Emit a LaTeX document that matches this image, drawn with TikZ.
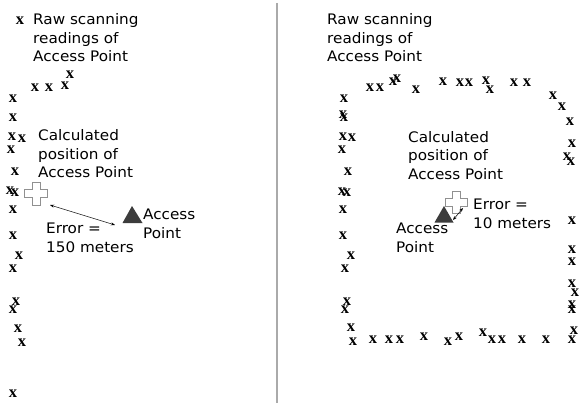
\documentclass[tikz,border=0pt]{standalone}
\usepackage{fontspec}
\newfontfamily\lblfont{DejaVu Sans}[FakeStretch=1.05]
\newfontfamily\xfont{Liberation Serif}
\usetikzlibrary{arrows.meta}
\definecolor{trifill}{HTML}{3C3C3C}
\definecolor{crossline}{HTML}{909090}
\definecolor{divider}{HTML}{AAAAAA}
\begin{document}
\begin{tikzpicture}[x=1pt,y=-1pt,
  xmark/.style={inner sep=0pt, font=\xfont\bfseries\fontsize{16.5}{16.5}\selectfont},
  lbl/.style={inner sep=0pt, anchor=base west, align=left, font=\lblfont\fontsize{14.5}{18.5}\selectfont},
  crossst/.style={draw=crossline, fill=white, line width=0.9pt},
  trist/.style={fill=trifill},
  errarrow/.style={{Stealth[length=4pt,width=3pt]}-{Stealth[length=4pt,width=3pt]}, line width=0.5pt},
  divst/.style={draw=divider, line width=1.6pt}]
\useasboundingbox (0,0) rectangle (580,406);
% divider
\coordinate (dtop) at (277,3);
\coordinate (dbot) at (277,403);
\draw[divst] (dtop) -- (dbot);

% ---------- left panel ----------
\foreach \p [count=\i] in {(20,21),(35,88),(49,88),(65,86),(70,75),(13,99),(13,118),(12,137),(22,139),(11,150),(15,172),(10,191),(15,193),(13,210),(13,236),(19,256),(13,269),(16,302),(13,310),(18,329),(22,343),(13,394)}
  \node[xmark] (L\i) at \p {x};
\node[lbl] (rawL) at (33,62) {Raw scanning\\readings of\\Access Point};
\node[lbl] (calcL) at (38,178) {Calculated\\position of\\Access Point};
\node[lbl] (apL) at (143,238) {Access\\Point};
\node[lbl] (errL) at (46,252) {Error =\\150 meters};
\coordinate (cL) at (36,193.5);
\draw[crossst, shift={(cL)}] (-4,-11.5) -- (4,-11.5) -- (4,-4) -- (11.5,-4) -- (11.5,4) -- (4,4) -- (4,11.5) -- (-4,11.5) -- (-4,4) -- (-11.5,4) -- (-11.5,-4) -- (-4,-4) -- cycle;
\coordinate (tLa) at (132,206);
\coordinate (tLb) at (142.5,223);
\coordinate (tLc) at (122.5,223);
\fill[trist] (tLa) -- (tLb) -- (tLc) -- cycle;
\coordinate (aL1) at (50,205);
\coordinate (aL2) at (115,225);
\draw[errarrow] (aL1) -- (aL2);

% ---------- right panel ----------
\foreach \p [count=\i] in {(370,88),(380,88),(393,82),(397,79),(416,90),(443,82),(460,83),(469,83),(486,81),(490,90),(514,83),(527,83),(553,96),(562,107),(570,122),
  (344,99),(343,115),(344,118),(343,137),(352,138),(342,150),(348,172),(342,192),(347,193),(343,210),(343,236),(351,256),(345,269),(347,302),(345,310),(351,328),(353,342),
  (373,340),(389,340),(400,340),(424,337),(448,342),(459,337),(483,333),(492,340),(502,340),(522,340),(546,340),(572,340),(574,331),
  (572,144),(567,157),(571,162),(572,221),(572,250),(572,262),(572,284),(575,293),(572,305),(572,310)}
  \node[xmark] (R\i) at \p {x};
\node[lbl] (rawR) at (327,62) {Raw scanning\\readings of\\Access Point};
\node[lbl] (calcR) at (408,179) {Calculated\\position of\\Access Point};
\node[lbl] (apR) at (396,252) {Access\\Point};
\node[lbl] (errR) at (473,228) {Error =\\10 meters};
\coordinate (cR) at (456.5,202.5);
\draw[crossst, shift={(cR)}] (-4,-11) -- (4,-11) -- (4,-4) -- (11,-4) -- (11,4) -- (4,4) -- (4,11) -- (-4,11) -- (-4,4) -- (-11,4) -- (-11,-4) -- (-4,-4) -- cycle;
\coordinate (tRa) at (444,206);
\coordinate (tRb) at (453.5,222.5);
\coordinate (tRc) at (434.5,222.5);
\fill[trist] (tRa) -- (tRb) -- (tRc) -- cycle;
\coordinate (aR1) at (453,220);
\coordinate (aR2) at (463,208);
\draw[errarrow] (aR1) -- (aR2);
\end{tikzpicture}
\end{document}
